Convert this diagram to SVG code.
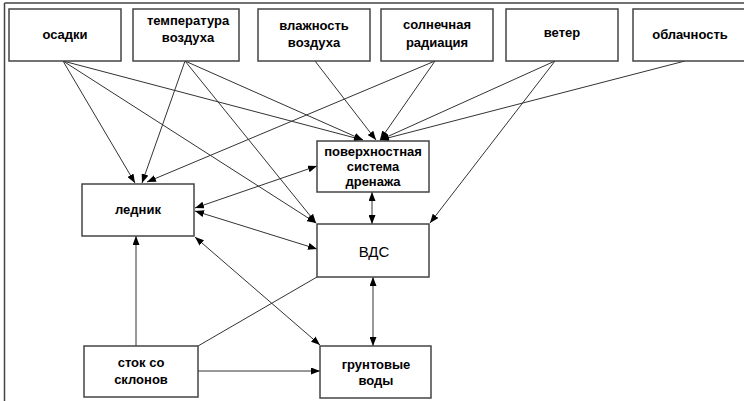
<svg xmlns="http://www.w3.org/2000/svg" width="744" height="401" viewBox="0 0 744 401">
<style>
.box{fill:#fff;stroke:#444;stroke-width:1.5}
.t{font-family:"Liberation Sans",Arial,sans-serif;font-weight:bold;font-size:13px;fill:#000;text-anchor:middle}
.r{font-family:"Liberation Sans",Arial,sans-serif;font-size:15px;fill:#000;text-anchor:middle}
.c line{stroke:#333;stroke-width:1;fill:none}
.a{marker-end:url(#ah)}
.b{marker-end:url(#ah);marker-start:url(#ah)}
</style>
<defs>
<marker id="ah" markerUnits="userSpaceOnUse" markerWidth="9" markerHeight="7" refX="9" refY="3.5" orient="auto-start-reverse">
<path d="M0,0 L9,3.5 L0,7 z" fill="#000"/>
</marker>
</defs>
<rect width="744" height="401" fill="#fff"/>
<g id="frame"><line x1="4.5" y1="3" x2="744" y2="3" stroke="#444" stroke-width="1.5"/><line x1="4.5" y1="3" x2="4.5" y2="401" stroke="#444" stroke-width="1.5"/></g>
<g class="c" id="connectors">
<line class="a" x1="63" y1="61" x2="135" y2="183"/>
<line class="a" x1="63" y1="61" x2="316" y2="223"/>
<line class="a" x1="63" y1="61" x2="363" y2="140"/>
<line class="a" x1="185" y1="61" x2="142" y2="183"/>
<line class="a" x1="185" y1="61" x2="316" y2="223"/>
<line class="a" x1="185" y1="61" x2="363" y2="140"/>
<line class="a" x1="315" y1="61" x2="376" y2="140"/>
<line class="a" x1="435" y1="61" x2="380" y2="140"/>
<line class="a" x1="435" y1="61" x2="147" y2="182"/>
<line class="a" x1="555" y1="61" x2="380" y2="140"/>
<line class="a" x1="555" y1="61" x2="430" y2="223"/>
<line class="a" x1="685" y1="61" x2="380" y2="140"/>
<line class="b" x1="195" y1="208" x2="317" y2="166"/>
<line class="b" x1="195" y1="211" x2="317" y2="249"/>
<line class="b" x1="195" y1="237" x2="320" y2="345"/>
<line class="b" x1="372" y1="192" x2="372" y2="224"/>
<line class="b" x1="373" y1="277" x2="373" y2="346"/>
<line class="a" x1="136" y1="346" x2="136" y2="236"/>
<line class="a" x1="198" y1="371" x2="320" y2="371"/>
<line x1="198" y1="346" x2="317" y2="277"/>
</g>
<g id="n1"><rect class="box" x="9" y="9" width="112" height="52"/><text class="t" x="65" y="39">осадки</text></g>
<g id="n2"><rect class="box" x="133" y="9" width="106" height="52"/><text class="t" x="188" y="25">температура</text><text class="t" x="188" y="42">воздуха</text></g>
<g id="n3"><rect class="box" x="258" y="9" width="112" height="52"/><text class="t" x="314" y="30">влажность</text><text class="t" x="314" y="47">воздуха</text></g>
<g id="n4"><rect class="box" x="381" y="9" width="112" height="52"/><text class="t" x="437" y="29">солнечная</text><text class="t" x="437" y="47">радиация</text></g>
<g id="n5"><rect class="box" x="506" y="9" width="112" height="52"/><text class="t" x="562" y="37">ветер</text></g>
<g id="n6"><rect class="box" x="633" y="9" width="112" height="52"/><text class="t" x="690" y="39">облачность</text></g>
<g id="n7"><rect class="box" x="317" y="141" width="112" height="51"/><text class="t" x="373" y="156">поверхностная</text><text class="t" x="373" y="171">система</text><text class="t" x="373" y="186">дренажа</text></g>
<g id="n8"><rect class="box" x="82" y="184" width="112" height="52"/><text class="t" x="138" y="214">ледник</text></g>
<g id="n9"><rect class="box" x="317" y="224" width="112" height="53"/><text class="r" x="374" y="257">ВДС</text></g>
<g id="n10"><rect class="box" x="84" y="346" width="114" height="51"/><text class="t" x="141" y="367">сток со</text><text class="t" x="141" y="384">склонов</text></g>
<g id="n11"><rect class="box" x="320" y="346" width="111" height="52"/><text class="t" x="376" y="369">грунтовые</text><text class="t" x="376" y="385">воды</text></g>
</svg>
